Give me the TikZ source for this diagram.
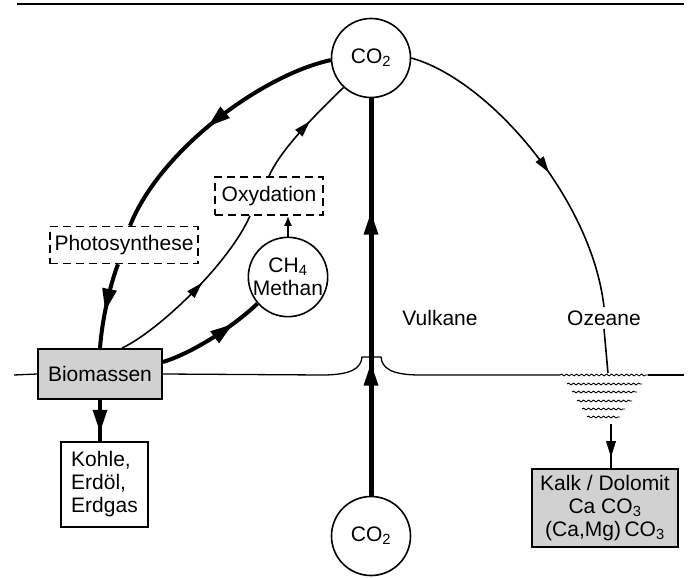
\documentclass[tikz,border=0pt]{standalone}
\usepackage{fontspec}
\setmainfont{Liberation Sans}
\usetikzlibrary{arrows.meta, decorations.markings, decorations.pathmorphing}

\newcommand{\bighead}{\fill (1pt,0pt) -- (-21pt,7.5pt) -- (-21pt,-7.5pt) -- cycle;}
\newcommand{\smallhead}{\fill (1pt,0pt) -- (-15pt,5pt) -- (-15pt,-5pt) -- cycle;}

\tikzset{
  lbl/.style={font=\fontsize{21}{23}\selectfont},
  thickflow/.style={line width=4pt},
  thinflow/.style={line width=1.6pt},
  bigmark/.style={postaction={decorate}, decoration={markings,
      mark=at position #1 with {\bighead}}},
  smallmark/.style={postaction={decorate}, decoration={markings,
      mark=at position #1 with {\smallhead}}},
  pool/.style={circle, draw, line width=1.6pt, minimum size=79pt, inner sep=0pt, fill=white, lbl},
  store/.style={draw, line width=1.8pt, fill=black!18, lbl},
  process/.style={draw, dash pattern=on 8pt off 5pt, line width=1.5pt, fill=white, lbl},
  ground/.style={line width=1.3pt},
  wave/.style={decorate, decoration={snake, amplitude=0.9pt, segment length=5pt}, line width=0.9pt},
}

\begin{document}
\begin{tikzpicture}[x=1pt,y=-1pt]
\useasboundingbox (0,0) rectangle (691,578);

% Speicher und Prozesse
\node[pool] (co2top) at (371,58) {CO\textsubscript{2}};
\node[pool] (co2bot) at (371,536) {CO\textsubscript{2}};
\node[pool, align=center] (methan) at (288,277) {CH\textsubscript{4}\\Methan};
\node[store, minimum width=124pt, minimum height=50pt] (bio) at (100,374) {Biomassen};
\node[draw, line width=1.8pt, lbl, align=left, minimum width=87pt, minimum height=85pt] (kohle) at (104.5,484.5) {Kohle,\\Erdöl,\\Erdgas};
\node[store, align=center, minimum width=146pt, minimum height=78pt, inner sep=2pt] (kalk) at (605,508) {Kalk / Dolomit\\Ca CO\textsubscript{3}\\(Ca,Mg)\,CO\textsubscript{3}};
\node[process, minimum width=148pt, minimum height=37pt] (photo) at (124,245) {Photosynthese};
\node[process, minimum width=108pt, minimum height=38pt] (oxy) at (269,196) {Oxydation};
\node[lbl] (vulkane) at (440,318) {Vulkane};
\node[lbl] (ozeane) at (604,318) {Ozeane};

\coordinate (oceantop) at (608,373);
\coordinate (seabed) at (611,424);

% Linie oben
\draw[line width=1.5pt] (17,4) -- (684,4);

% Erdoberflaeche mit Vulkan
\draw[ground] (14,375) -- (bio.west);
\draw[ground] (bio.east) -- (322,375) .. controls (352,375) and (361,368) .. (362,357)
    -- (381,357) .. controls (382,368) and (391,375) .. (420,375) -- (560,375);
\draw[ground] (648,375) -- (684,375);
\foreach \y/\xa/\xb in {375/560/648, 384/567/642, 392/572/637, 401/577/632, 409/582/625, 417/587/620}
  \draw[wave] (\xa,\y) -- (\xb,\y);

% Fluesse
\draw[thickflow, bigmark=0.52] (co2top.183) .. controls (262,75) and (160,150) .. ([xshift=6pt]photo.north);
\draw[thickflow, bigmark=0.55] ([xshift=-6pt]photo.south) .. controls (110,285) and (102,320) .. (bio.north);
\draw[thinflow, smallmark=0.55] ([xshift=22pt]bio.north) .. controls (160,330) and (230,262) .. ([xshift=-19pt]oxy.south);
\draw[thinflow, smallmark=0.58] (oxy.north) .. controls (280,150) and (318,112) .. (co2top.227);
\draw[thinflow, smallmark=0.55] (co2top.east) .. controls (490,80) and (592,200) .. (ozeane.north);
\draw[thinflow] (ozeane.south) -- (oceantop);
\draw[thickflow, bigmark=0.7] ([yshift=12pt]bio.east) .. controls (195,352) and (235,325) .. (methan.221);
\draw[thickflow, bigmark=0.75] (bio.south) -- (bio.south |- kohle.north);
\draw[thinflow, smallmark=0.73] (seabed) -- (seabed |- kalk.north);
\draw[line width=2pt, -{Latex[length=10pt,width=8pt]}] (methan.north) -- (methan.north |- oxy.south);
\draw[line width=5pt, postaction={decorate},
      decoration={markings,
        mark=at position 0.33 with {\bighead},
        mark=at position 0.71 with {\bighead}}] (co2bot) -- (co2top);
\end{tikzpicture}
\end{document}
